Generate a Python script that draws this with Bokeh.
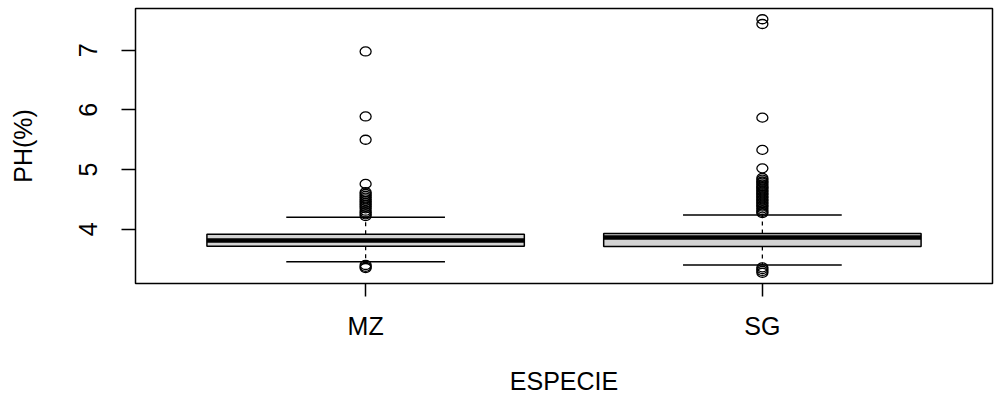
from bokeh.plotting import figure
from bokeh.models import Range1d, FixedTicker
from bokeh.embed import file_html
from bokeh.resources import INLINE

# Box-plot summary of PH(%) by species
categories = ["MZ", "SG"]
q1 = [3.715, 3.71]
median = [3.81, 3.86]
q3 = [3.915, 3.93]
whisker_low = [3.455, 3.40]
whisker_high = [4.20, 4.24]

outliers_mz = [4.22, 4.25, 4.28, 4.31, 4.35, 4.38, 4.41, 4.44, 4.47, 4.50,
               4.53, 4.56, 4.59, 4.62, 4.76, 5.50, 5.89, 6.98,
               3.40, 3.37, 3.35]
outliers_sg = [4.27, 4.29, 4.32, 4.35, 4.38, 4.40, 4.43, 4.45, 4.48, 4.50,
               4.53, 4.55, 4.58, 4.60, 4.63, 4.65, 4.68, 4.70, 4.72, 4.75,
               4.78, 4.80, 4.83, 4.86, 5.02, 5.33, 5.87, 7.44, 7.52,
               3.36, 3.33, 3.30, 3.27]
outliers = [outliers_mz, outliers_sg]

pos = [i + 1 for i in range(len(categories))]
box_w = 0.8
cap_w = 0.4

FONT = "Liberation Sans"

p = figure(width=997, height=401, output_backend="svg", toolbar_location=None,
           x_range=Range1d(0.42, 2.58), y_range=Range1d(3.09, 7.70))
p.min_border_left = 135
p.min_border_right = 5
p.min_border_top = 8
p.min_border_bottom = 118
p.background_fill_color = "white"
p.border_fill_color = "white"
p.outline_line_color = "black"
p.outline_line_width = 1.5
p.xgrid.visible = False
p.ygrid.visible = False

# boxes
p.quad(left=[x - box_w / 2 for x in pos], right=[x + box_w / 2 for x in pos],
       bottom=q1, top=q3, fill_color="#D3D3D3", line_color="black", line_width=1.5)
# medians
p.segment(x0=[x - box_w / 2 for x in pos], x1=[x + box_w / 2 for x in pos],
          y0=median, y1=median, line_color="black", line_width=4.5)
# dashed whiskers
p.segment(x0=pos, x1=pos, y0=q3, y1=whisker_high, line_color="black",
          line_width=1.3, line_dash="4 4")
p.segment(x0=pos, x1=pos, y0=q1, y1=whisker_low, line_color="black",
          line_width=1.3, line_dash="4 4")
# whisker caps
p.segment(x0=[x - cap_w / 2 for x in pos], x1=[x + cap_w / 2 for x in pos],
          y0=whisker_high, y1=whisker_high, line_color="black", line_width=1.5)
p.segment(x0=[x - cap_w / 2 for x in pos], x1=[x + cap_w / 2 for x in pos],
          y0=whisker_low, y1=whisker_low, line_color="black", line_width=1.5)
# outliers
ox = [x for x, vals in zip(pos, outliers) for _ in vals]
oy = [v for vals in outliers for v in vals]
p.ellipse(x=ox, y=oy, width=11, height=9, width_units="screen",
          height_units="screen", fill_color=None, line_color="black",
          line_width=1.3)

# axes
p.xaxis.ticker = FixedTicker(ticks=pos)
p.xaxis.major_label_overrides = {x: c for x, c in zip(pos, categories)}
p.yaxis.ticker = FixedTicker(ticks=[4, 5, 6, 7])
p.yaxis.major_label_orientation = "vertical"
p.xaxis.axis_label = "ESPECIE"
p.yaxis.axis_label = "PH(%)"
for ax in (p.xaxis[0], p.yaxis[0]):
    ax.axis_line_color = None
    ax.minor_tick_line_color = None
    ax.major_tick_line_color = "black"
    ax.major_tick_line_width = 1.5
    ax.major_tick_in = 0
    ax.major_label_text_font = FONT
    ax.major_label_text_font_size = "25px"
    ax.major_label_text_color = "black"
    ax.axis_label_text_font = FONT
    ax.axis_label_text_font_size = "25px"
    ax.axis_label_text_font_style = "normal"
    ax.axis_label_text_color = "black"
p.xaxis.major_tick_out = 13
p.yaxis.major_tick_out = 14
p.xaxis.major_label_standoff = 15
p.xaxis.axis_label_standoff = 24
p.yaxis.major_label_standoff = 24
p.yaxis.axis_label_standoff = 40

open("out.html", "w").write(file_html(p, INLINE))
